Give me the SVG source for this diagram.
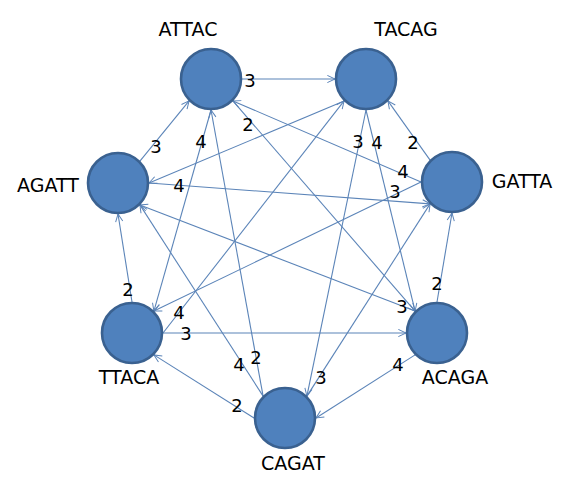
<svg xmlns="http://www.w3.org/2000/svg" width="573" height="493" viewBox="0 0 573 493">
<style>
.e{stroke:#5b84b8;stroke-width:1.1;fill:none;marker-end:url(#ah)}
.n{fill:#4f81bd;stroke:#3a6190;stroke-width:2.6}
text{font-family:"DejaVu Sans",Verdana,sans-serif;font-size:18px;fill:#000}
.l{text-anchor:middle;font-size:19px}
.w{text-anchor:middle}
</style>
<defs>
<marker id="ah" viewBox="0 0 10 10" refX="9.5" refY="5" markerWidth="9" markerHeight="9" markerUnits="userSpaceOnUse" orient="auto">
<path d="M1,1 L9.5,5 L1,9" fill="none" stroke="#5b84b8" stroke-width="1.1"/>
</marker>
</defs>
<rect width="573" height="493" fill="#fff"/>
<g id="connectors">
<line class="e" x1="242" y1="79" x2="335" y2="79"/>
<line class="e" x1="232.9" y1="100.9" x2="415.1" y2="311.1"/>
<line class="e" x1="421" y1="182" x2="232.9" y2="100.9"/>
<line class="e" x1="149" y1="183" x2="430.1" y2="203.9"/>
<line class="e" x1="344.1" y1="100.9" x2="149" y2="183"/>
<line class="e" x1="163" y1="333" x2="344.1" y2="100.9"/>
<line class="e" x1="163" y1="333" x2="406" y2="333"/>
<line class="e" x1="211" y1="110" x2="153.9" y2="311.1"/>
<line class="e" x1="263.1" y1="396.1" x2="211" y2="110"/>
<line class="e" x1="430.1" y1="160.1" x2="387.9" y2="100.9"/>
<line class="e" x1="366" y1="110" x2="306.9" y2="396.1"/>
<line class="e" x1="366" y1="110" x2="415.1" y2="311.1"/>
<line class="e" x1="415.1" y1="311.1" x2="139.9" y2="204.9"/>
<line class="e" x1="415.1" y1="354.9" x2="316" y2="418"/>
<line class="e" x1="437" y1="302" x2="452" y2="213"/>
<line class="e" x1="139.9" y1="161.1" x2="189.1" y2="100.9"/>
<line class="e" x1="132" y1="302" x2="118" y2="214"/>
<line class="e" x1="254" y1="418" x2="153.9" y2="354.9"/>
<line class="e" x1="421" y1="182" x2="153.9" y2="311.1"/>
<line class="e" x1="306.9" y1="396.1" x2="430.1" y2="203.9"/>
<line class="e" x1="263.1" y1="396.1" x2="139.9" y2="204.9"/>
</g>
<g id="weights">
<text class="w" x="250" y="87">3</text>
<text class="w" x="156" y="153">3</text>
<text class="w" x="201" y="148">4</text>
<text class="w" x="248" y="131">2</text>
<text class="w" x="358" y="148">3</text>
<text class="w" x="377" y="149">4</text>
<text class="w" x="413" y="149">2</text>
<text class="w" x="403" y="178">4</text>
<text class="w" x="395" y="198">3</text>
<text class="w" x="179" y="192">4</text>
<text class="w" x="128" y="296">2</text>
<text class="w" x="437" y="290">2</text>
<text class="w" x="179" y="319">4</text>
<text class="w" x="186" y="340">3</text>
<text class="w" x="402" y="313">3</text>
<text class="w" x="239" y="371">4</text>
<text class="w" x="256" y="364">2</text>
<text class="w" x="237" y="412">2</text>
<text class="w" x="321" y="384">3</text>
<text class="w" x="398" y="371">4</text>
</g>
<g id="ATTAC"><circle class="n" cx="211" cy="79" r="30"/><text class="l" x="188" y="36">ATTAC</text></g>
<g id="TACAG"><circle class="n" cx="366" cy="79" r="30"/><text class="l" x="406" y="36">TACAG</text></g>
<g id="AGATT"><circle class="n" cx="118" cy="183" r="30"/><text class="l" x="48" y="192">AGATT</text></g>
<g id="GATTA"><circle class="n" cx="452" cy="182" r="30"/><text class="l" x="522" y="188">GATTA</text></g>
<g id="TTACA"><circle class="n" cx="132" cy="333" r="30"/><text class="l" x="129" y="384">TTACA</text></g>
<g id="ACAGA"><circle class="n" cx="437" cy="333" r="30"/><text class="l" x="455" y="384">ACAGA</text></g>
<g id="CAGAT"><circle class="n" cx="285" cy="418" r="30"/><text class="l" x="293" y="470">CAGAT</text></g>
</svg>
